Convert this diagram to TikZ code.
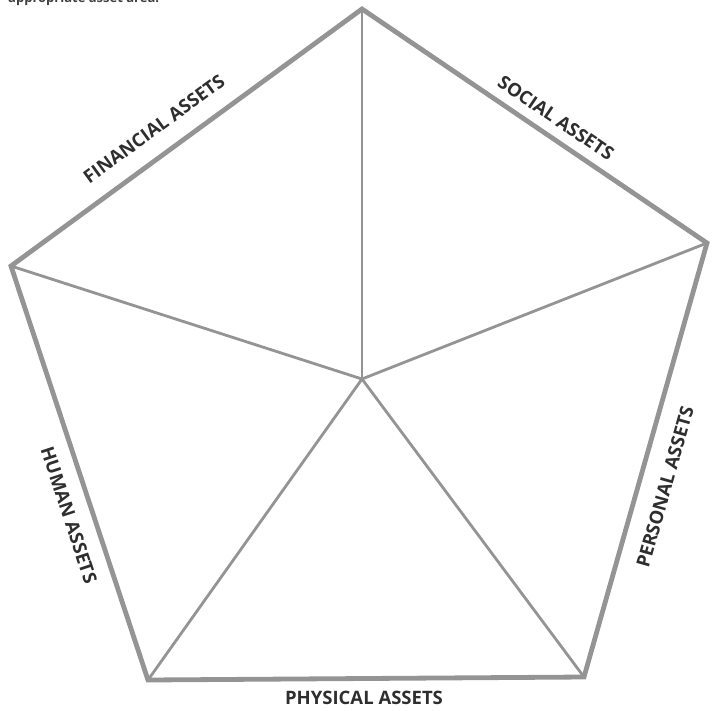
\documentclass[tikz,border=0pt]{standalone}
\usepackage{fontspec}
\setmainfont{Open Sans}
\begin{document}
\begin{tikzpicture}[x=1pt,y=-1pt,
  rim/.style={draw=black!42, line width=4.8pt, line join=miter},
  spoke/.style={draw=black!42, line width=2.8pt},
  lbl/.style={text=black!82, font=\bfseries\fontsize{18.5}{18.5}\selectfont, inner sep=0pt},
  note/.style={text=black!75, font=\bfseries\fontsize{13}{13}\selectfont, inner sep=0pt, anchor=base west}]
\useasboundingbox (0,0) rectangle (712,710);
\coordinate (T) at (362,9);
\coordinate (R) at (707,243);
\coordinate (BR) at (584,677);
\coordinate (BL) at (148,680);
\coordinate (L) at (11,266);
\coordinate (C) at (362,379);
\draw[spoke] (C) -- (T);
\draw[spoke] (C) -- (R);
\draw[spoke] (C) -- (BR);
\draw[spoke] (C) -- (BL);
\draw[spoke] (C) -- (L);
\draw[rim] (T) -- (R) -- (BR) -- (BL) -- (L) -- cycle;
\node[note] (top) at (8,2.5) {appropriate asset area.};
\node[lbl, rotate=36.1] (fin) at (154,129) {FINANCIAL ASSETS};
\node[lbl, rotate=-34.2] (soc) at (556,118) {SOCIAL ASSETS};
\node[lbl, rotate=74.2] (per) at (665,487) {PERSONAL ASSETS};
\node[lbl, rotate=-71.8] (hum) at (69,515) {HUMAN ASSETS};
\node[lbl] (phy) at (364,698) {PHYSICAL ASSETS};
\end{tikzpicture}
\end{document}
